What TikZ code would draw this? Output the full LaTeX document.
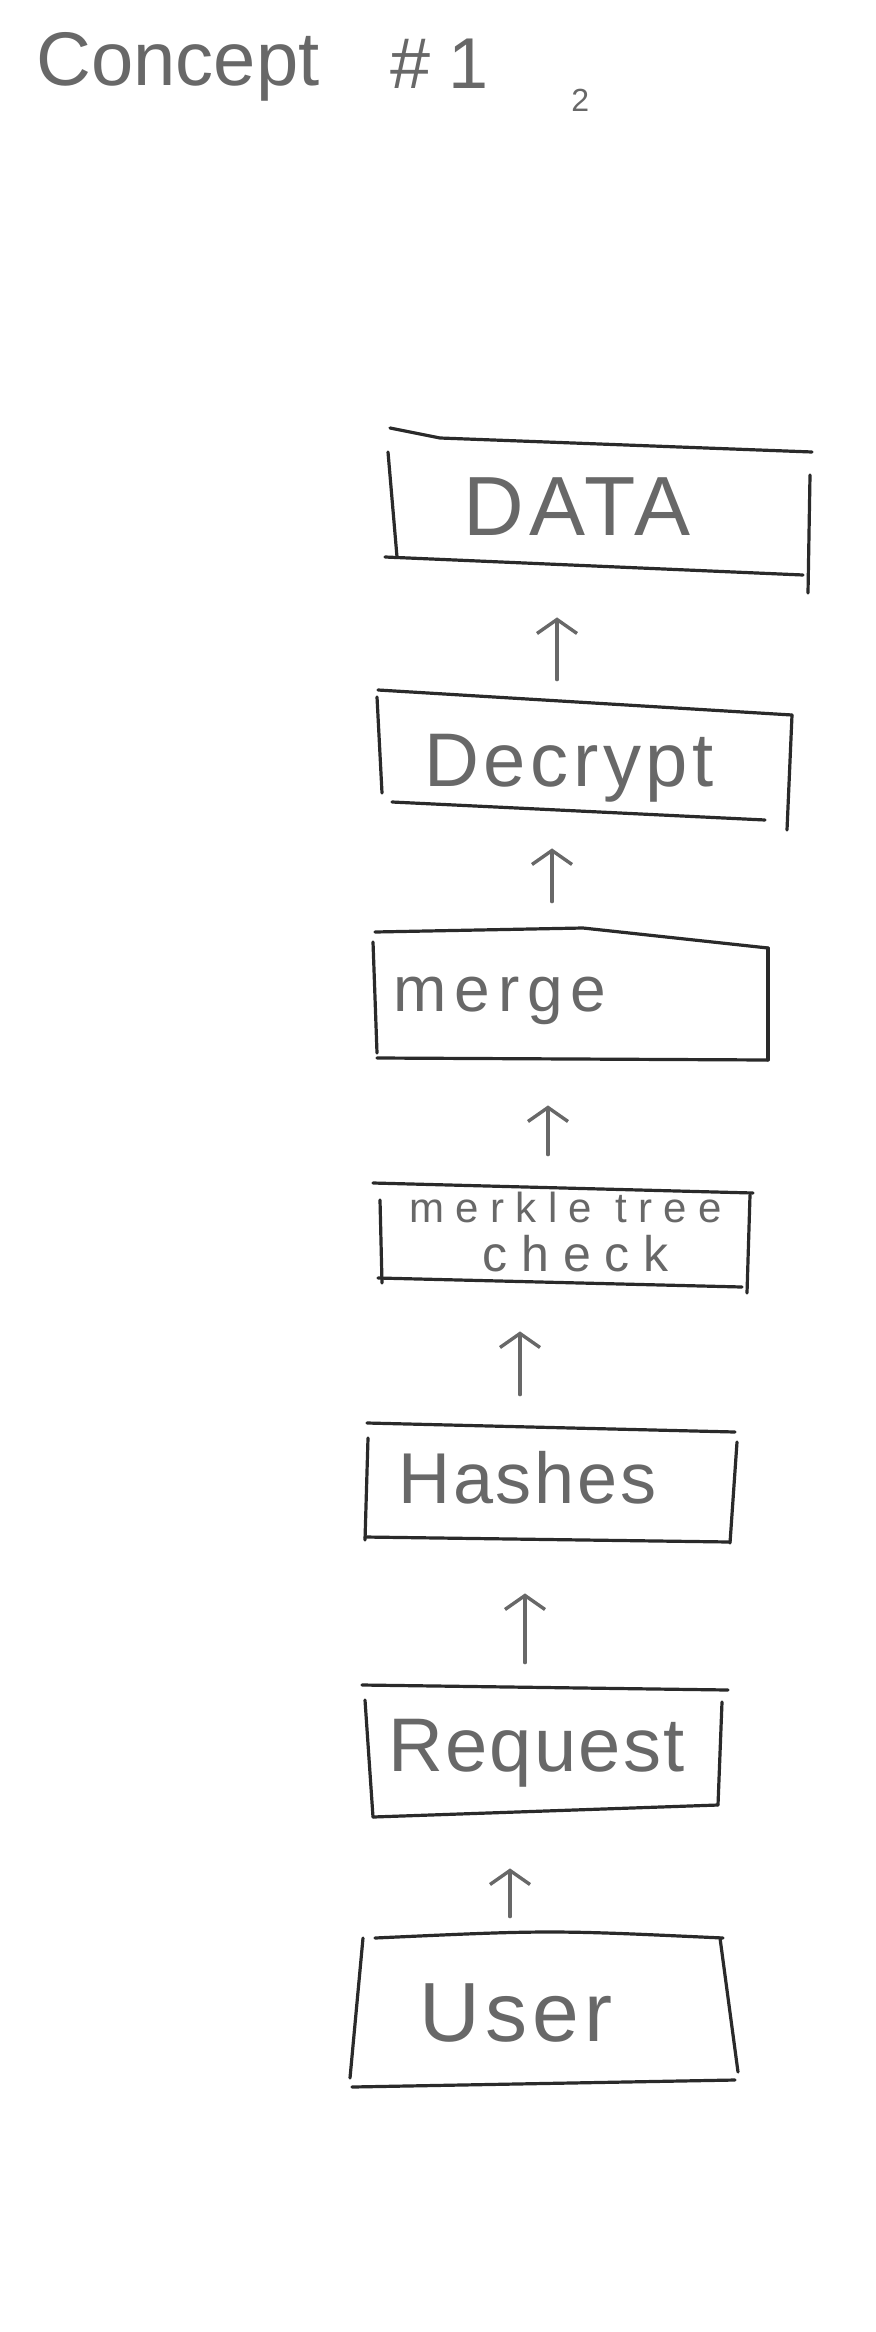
\documentclass[tikz,border=0pt]{standalone}
\usepackage{fontspec}
\setmainfont{Liberation Sans}
\usetikzlibrary{arrows.meta}
\definecolor{ink}{HTML}{2A2A2A}
\definecolor{pencil}{HTML}{686868}
\newcommand{\fs}[1]{\fontsize{#1}{#1}\selectfont}
\newcommand{\spaced}[1]{\addfontfeature{LetterSpace=#1}}
\begin{document}
\begin{tikzpicture}[x=0.5pt,y=-0.5pt,
  box/.style={draw=none, rectangle, inner sep=0pt},
  sketch/.style={draw=ink, line width=1.6pt, line cap=round, line join=round},
  txt/.style={text=pencil, inner sep=0pt},
  arr/.style={draw=pencil, line width=1.7pt, line cap=round, -{Straight Barb[length=7pt,width=20pt,line width=1.7pt]}}]
\useasboundingbox (0,0) rectangle (876,2332);
\fill[white] (0,0) rectangle (876,2332);

% title
\node[txt, font=\fs{38}, anchor=base west] (title) at (36,86) {Concept};
\node[txt, font=\fs{36}\spaced{25}, anchor=base west] (num) at (390,89) {\#1};
\node[txt, font=\fs{16}, anchor=base west] (sub) at (571,112) {2};

% boxes (named, outlines sketched below)
\node[box, minimum width=212pt, minimum height=65pt,
  label={[txt, font=\fs{42}\spaced{6}, xshift=-11.5pt, yshift=-2pt]center:DATA}] (data) at (600,503) {};
\node[box, minimum width=206pt, minimum height=56pt,
  label={[txt, font=\fs{38}\spaced{6}, xshift=-7.5pt, yshift=-6pt]center:Decrypt}] (decrypt) at (584,756) {};
\node[box, minimum width=196.5pt, minimum height=61pt,
  label={[txt, font=\fs{32}\spaced{12}, xshift=-35.75pt, yshift=-2.5pt]center:merge}] (merge) at (571.5,996) {};
\node[box, minimum width=186pt, minimum height=47pt,
  label={[txt, font=\fs{21}\spaced{27}, xshift=-0.2pt, yshift=12.6pt]center:merkle tree},
  label={[txt, font=\fs{25}\spaced{28}, xshift=4.75pt, yshift=-10.4pt]center:check}] (merkle) at (566,1233) {};
\node[box, minimum width=183pt, minimum height=58.5pt,
  label={[txt, font=\fs{36}\spaced{4}, xshift=-11.25pt, yshift=1.75pt]center:Hashes}] (hashes) at (550,1481.5) {};
\node[box, minimum width=178pt, minimum height=65pt,
  label={[txt, font=\fs{38}\spaced{3}, xshift=-4.25pt, yshift=-2.5pt]center:Request}] (request) at (545,1748) {};
\node[box, minimum width=191pt, minimum height=73pt,
  label={[txt, font=\fs{42}\spaced{6}, xshift=-14pt, yshift=-1.5pt]center:User}] (user) at (544,2010) {};

% sketched outlines
% DATA
\draw[sketch] (390,428) -- (440,438) -- (812,452);
\draw[sketch] (388,452) -- (397,557);
\draw[sketch] (385,557) -- (803,575);
\draw[sketch] (810,475) -- (808,593);
% Decrypt
\draw[sketch] (378,690) -- (792,715);
\draw[sketch] (377,697) -- (382,793);
\draw[sketch] (392,802) -- (765,820);
\draw[sketch] (792,715) -- (787,830);
% merge
\draw[sketch] (375,932) -- (583,928) -- (768,948);
\draw[sketch] (373,942) -- (377,1053);
\draw[sketch] (377,1058) -- (768,1060);
\draw[sketch] (768,948) -- (768,1060);
% merkle
\draw[sketch] (373,1183) -- (753,1193);
\draw[sketch] (380,1200) -- (382,1283);
\draw[sketch] (378,1278) -- (742,1287);
\draw[sketch] (750,1195) -- (747,1293);
% Hashes
\draw[sketch] (367,1423) -- (735,1432);
\draw[sketch] (368,1438) -- (365,1540);
\draw[sketch] (365,1537) -- (730,1542);
\draw[sketch] (737,1442) -- (730,1543);
% Request
\draw[sketch] (362,1685) -- (728,1690);
\draw[sketch] (365,1700) -- (373,1817);
\draw[sketch] (373,1817) -- (718,1805);
\draw[sketch] (722,1702) -- (718,1805);
% User
\draw[sketch] (375,1938) .. controls (550,1930) .. (723,1938);
\draw[sketch] (363,1938) -- (350,2078);
\draw[sketch] (352,2087) -- (735,2080);
\draw[sketch] (720,1938) -- (738,2072);

% arrows
\draw[arr] ([xshift=-13.5pt,yshift=10pt]decrypt.north) -- ([xshift=-21.5pt,yshift=-24.5pt]data.south);
\draw[arr] ([xshift=-9.75pt,yshift=16.5pt]merge.north) -- ([xshift=-16pt,yshift=-18pt]decrypt.south);
\draw[arr] ([xshift=-9pt,yshift=15.5pt]merkle.north) -- ([xshift=-11.75pt,yshift=-24pt]merge.south);
\draw[arr] ([xshift=-15pt,yshift=14pt]hashes.north) -- ([xshift=-23pt,yshift=-25.5pt]merkle.south);
\draw[arr] ([xshift=-10pt,yshift=10pt]request.north) -- ([xshift=-12.5pt,yshift=-26.5pt]hashes.south);
\draw[arr] ([xshift=-17pt,yshift=10pt]user.north) -- ([xshift=-17.5pt,yshift=-27.5pt]request.south);
\end{tikzpicture}
\end{document}
